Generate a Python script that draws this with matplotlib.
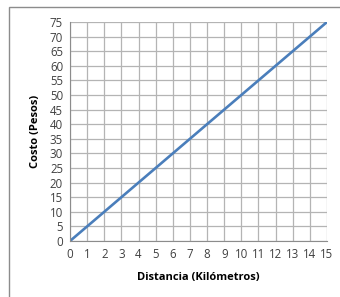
import matplotlib.pyplot as plt
from matplotlib.patches import Rectangle

distancia = [0, 1, 2, 3, 4, 5, 6, 7, 8, 9, 10, 11, 12, 13, 14, 15]
costo = [0, 5, 10, 15, 20, 25, 30, 35, 40, 45, 50, 55, 60, 65, 70, 75]
x_ticks = list(range(0, 16))
y_ticks = list(range(0, 80, 5))

plt.rcParams['font.family'] = ['Open Sans', 'DejaVu Sans']

fig = plt.figure(figsize=(3.4, 2.97), dpi=100)
ax = fig.add_axes([70 / 340, 1 - 241 / 297, 257 / 340, 219 / 297])

# outer chart frame (clipped at right and bottom like the source)
fig.patches.append(Rectangle((9 / 340, -0.1), 1.2, 1 - 7 / 297 + 0.1,
                             transform=fig.transFigure, fill=False,
                             edgecolor='#8c8c8c', linewidth=1.0, clip_on=False))

ax.plot(distancia, costo, color='#4a7ebb', linewidth=1.9, solid_capstyle='butt')

ax.set_xlim(0, 15)
ax.set_ylim(0, 75)
ax.set_xticks(x_ticks)
ax.set_yticks(y_ticks)
ax.grid(True, color='#b4b4b4', linewidth=0.9)
ax.set_axisbelow(True)

for s in ['top', 'right']:
    ax.spines[s].set_visible(False)
ax.spines['left'].set_color('#8c8c8c')
ax.spines['bottom'].set_color('#8c8c8c')
ax.tick_params(length=0, labelsize=8.3, labelcolor='#404040', pad=5)

ax.set_xlabel('Distancia (Kilómetros)', fontsize=8, fontweight='bold', labelpad=8)
ax.set_ylabel('Costo (Pesos)', fontsize=8, fontweight='bold', labelpad=6)

fig.savefig('out.png', dpi=100)
